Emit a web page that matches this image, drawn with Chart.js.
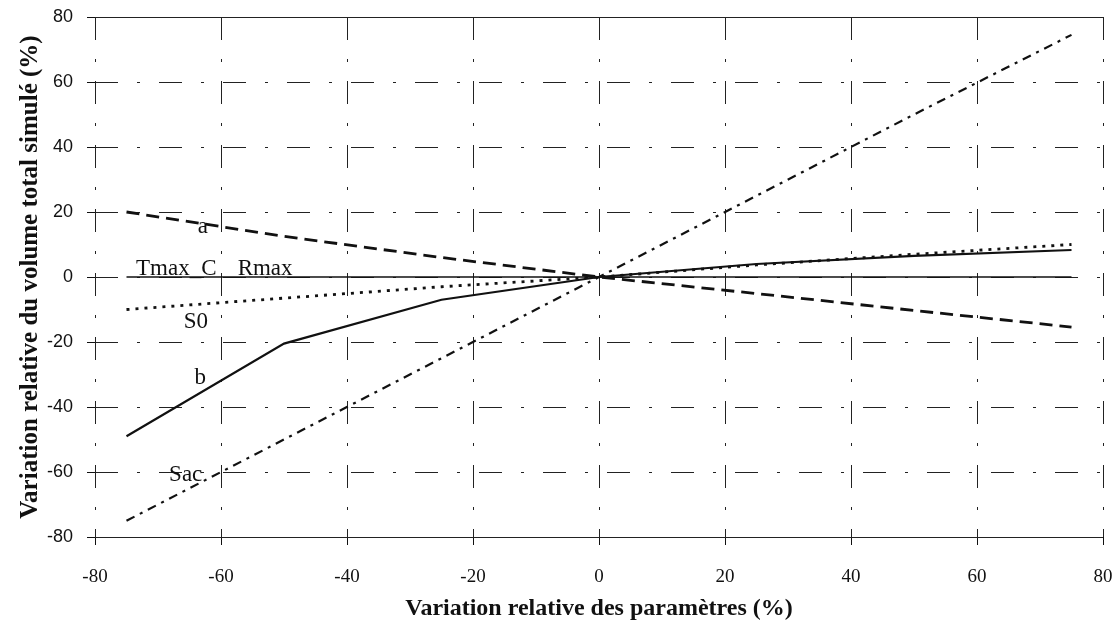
<!DOCTYPE html>
<html lang="fr">
<head>
<meta charset="utf-8">
<title>Sensibilité du volume total simulé</title>
<script src="https://cdn.jsdelivr.net/npm/chart.js@4.4.1/dist/chart.umd.min.js"></script>
<style>
    html, body { margin: 0; padding: 0; background: #fff; }
    #wrap { width: 1116px; height: 622px; }
</style>
</head>
<body>
<div id="wrap"><canvas id="sensibiliteChart" width="1116" height="622"></canvas></div>
<script>
'use strict';

// Variation relative des paramètres (%)
const variationsParam = [-75, -50, -25, 0, 25, 50, 75];

// Variation relative du volume total simulé (%) pour chaque paramètre
const serieA = [20, 12.5, 6, 0, -5.1, -10.3, -15.4];
const serieB = [-49, -20.5, -7, 0, 4, 6.5, 8.3];
const serieS0 = [-10, -6.5, -3, 0, 3.7, 7, 10];
const serieSac = [-75, -50, -25, 0, 25, 50, 74.5];
const serieTmaxRmax = [0, 0, 0, 0, 0, 0, 0];

// Graduations des axes
const ticksX = [-80, -60, -40, -20, 0, 20, 40, 60, 80];
const ticksY = [-80, -60, -40, -20, 0, 20, 40, 60, 80];

// Étiquettes posées sur les courbes (coordonnées en données)
const etiquettes = [
    { texte: 'a', x: -62.9, y: 15.4 },
    { texte: 'Tmax_C', x: -67.1, y: 2.4 },
    { texte: 'Rmax', x: -53, y: 2.4 },
    { texte: 'S0', x: -64, y: -13.8 },
    { texte: 'b', x: -63.3, y: -31 },
    { texte: 'Sac', x: -65.6, y: -61 },
];

function points(valeurs) {
    return variationsParam.map((x, i) => ({ x: x, y: valeurs[i] }));
}

function serie(label, valeurs, dash, largeur) {
    return {
        label: label,
        data: points(valeurs),
        borderColor: '#111',
        backgroundColor: '#111',
        borderWidth: largeur,
        borderDash: dash,
        pointRadius: 0,
        fill: false,
        tension: 0,
    };
}

/* Plugin pour écrire les noms des courbes */
const etiquettesPlugin = {
    id: 'etiquettes',
    afterDatasetsDraw(chart) {
        const ctx = chart.ctx;
        const sx = chart.scales.x;
        const sy = chart.scales.y;
        ctx.save();
        ctx.font = '23px "Liberation Serif", serif';
        ctx.fillStyle = '#111';
        ctx.textAlign = 'center';
        ctx.textBaseline = 'middle';
        etiquettes.forEach((e) => {
            ctx.fillText(e.texte, sx.getPixelForValue(e.x), sy.getPixelForValue(e.y));
        });
        ctx.restore();
    },
};

const motifGrille = [23, 19, 3, 19];

var ctx = document.getElementById('sensibiliteChart').getContext('2d');
var sensibiliteChart = new Chart(ctx, {
    type: 'line',
    data: {
        datasets: [
            serie('a', serieA, [13, 7], 2.8),
            serie('b', serieB, [], 2.2),
            serie('S0', serieS0, [3, 6], 2.8),
            serie('Sac', serieSac, [9, 6, 3, 6], 2.2),
            serie('Tmax_C Rmax', serieTmaxRmax, [], 1.5),
        ],
    },
    options: {
        responsive: false,
        animation: false,
        layout: {
            padding: { left: 16, right: 13, top: 17, bottom: 0 },
        },
        plugins: {
            legend: { display: false },
            tooltip: { enabled: false },
        },
        scales: {
            x: {
                type: 'linear',
                min: -80,
                max: 80,
                afterBuildTicks: (axis) => {
                    axis.ticks = ticksX.map((v) => ({ value: v }));
                },
                afterFit: (axis) => {
                    axis.height = 85;
                    axis.paddingLeft = 0;
                    axis.paddingRight = 0;
                },
                ticks: {
                    color: '#111',
                    padding: 21,
                    font: { family: '"Liberation Serif", serif', size: 19 },
                },
                grid: {
                    color: '#222',
                    lineWidth: 1,
                    tickLength: 8,
                    tickColor: '#111',
                    tickBorderDash: [],
                },
                border: {
                    display: false,
                    dash: motifGrille,
                },
                title: {
                    display: true,
                    text: 'Variation relative des paramètres (%)',
                    color: '#111',
                    font: { family: '"Liberation Serif", serif', size: 24, weight: 'bold', lineHeight: 1 },
                    padding: { top: 0, bottom: 1 },
                },
            },
            y: {
                type: 'linear',
                min: -80,
                max: 80,
                afterBuildTicks: (axis) => {
                    axis.ticks = ticksY.map((v) => ({ value: v }));
                },
                afterFit: (axis) => {
                    axis.width = 79;
                    axis.paddingTop = 0;
                    axis.paddingBottom = 0;
                },
                ticks: {
                    color: '#111',
                    padding: 14,
                    font: { family: '"Liberation Sans", Arial, sans-serif', size: 18 },
                },
                grid: {
                    color: '#222',
                    lineWidth: 1,
                    tickLength: 8,
                    tickColor: '#111',
                    tickBorderDash: [],
                },
                border: {
                    display: false,
                    // les lignes du haut et du bas (80 et -80) sont continues
                    dash: (c) => (c.tick && Math.abs(c.tick.value) === 80 ? [] : motifGrille),
                },
                title: {
                    display: true,
                    text: 'Variation relative du volume total simulé (%)',
                    color: '#111',
                    font: { family: '"Liberation Serif", serif', size: 25, weight: 'bold', lineHeight: 1.2 },
                    padding: { top: 0, bottom: 0 },
                },
            },
        },
    },
    plugins: [etiquettesPlugin],
});
</script>
</body>
</html>
